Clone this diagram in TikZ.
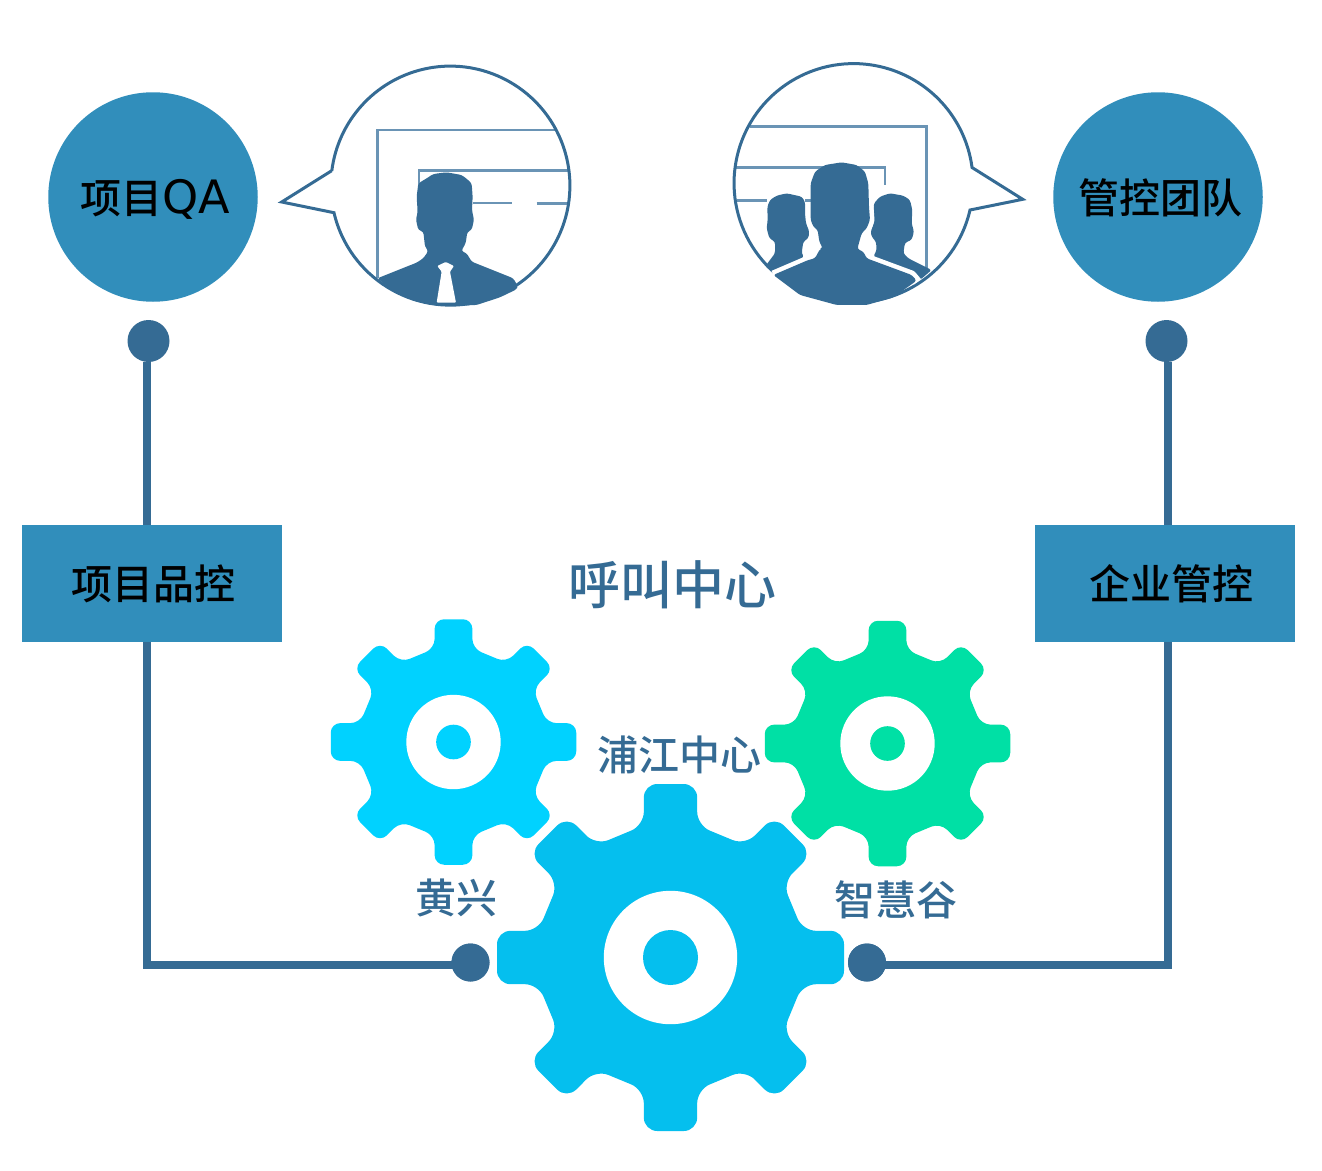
\documentclass[tikz,border=0pt]{standalone}
\usepackage{fontspec}
\newfontfamily\cjk{Noto Sans CJK SC Medium}
\newfontfamily\latinlab{DejaVu Sans}
\definecolor{darkblue}{HTML}{356B94}
\definecolor{midblue}{HTML}{318EBB}
\definecolor{linelight}{HTML}{6A94B5}
\definecolor{gearbig}{HTML}{05BFEE}
\definecolor{gearcyan}{HTML}{00D2FF}
\definecolor{geargreen}{HTML}{00E0A5}
\tikzset{
  hub/.style={circle,fill=midblue,minimum size=209.5pt,inner sep=0pt},
  hubtext/.style={text=black,inner sep=0pt,font=\cjk\fontsize{41}{41}\selectfont},
  dotbig/.style={circle,fill=darkblue,minimum size=42pt,inner sep=0pt},
  dotsmall/.style={circle,fill=darkblue,minimum size=38pt,inner sep=0pt},
  band/.style={rectangle,fill=midblue,minimum width=259.5pt,minimum height=117pt,inner sep=0pt,text=black,font=\cjk\fontsize{41}{41}\selectfont},
  conn/.style={draw=darkblue,line width=7.5pt},
  lab/.style={text=darkblue,inner sep=0pt,font=\cjk\fontsize{41}{41}\selectfont},
  labbig/.style={text=darkblue,inner sep=0pt,font=\cjk\fontsize{52}{52}\selectfont},
  bubble/.style={draw=darkblue,line width=3pt,line join=miter},
  thinline/.style={draw=linelight,line width=2.8pt},
  person/.style={fill=darkblue,rounded corners=2.5pt},
  halo/.style={draw=white,line width=9pt,line join=round},
}
\newcommand{\gearshape}[6]{%
  \begin{scope}[shift={(#1,#2)},scale=#3]
    \fill[#4,rounded corners=#3*13.5pt] (0,-173.5)
      foreach \a in {0,45,...,315} {
        -- ([rotate=-\a]26.7,-173.5) -- ([rotate=-\a]26.7,-132.1)
        -- ([rotate=-\a]74.6,-112.3) -- ([rotate=-\a-45]-26.7,-173.5)
      } -- cycle;
    \fill[white] (0,0) circle[radius=#5];
    \fill[#4] (0,0) circle[radius=#6];
  \end{scope}}
\begin{document}
\begin{tikzpicture}[x=1pt,y=-1pt]
\useasboundingbox (0,0) rectangle (1322,1170);

% gears
\gearshape{453.5}{742}{0.7075}{gearcyan}{66.7}{24.5}
\gearshape{887.5}{743.5}{0.7075}{geargreen}{66.7}{24.5}
\gearshape{670.5}{957.5}{1}{gearbig}{66.7}{27.5}

% hubs, bands, dots
\node[hub] (qa) at (153,197) {};
\node[hub] (team) at (1158,197) {};
\node[hubtext] (qatext) at (155,199) {项目{\latinlab\fontsize{46}{46}\selectfont QA}};
\node[hubtext] (teamtext) at (1160,198) {管控团队};
\node[dotbig] (dotTL) at (148.5,341) {};
\node[dotbig] (dotTR) at (1166.5,341) {};
\node[band] (boxL) at (151.75,583.5) {\hspace{4pt}项目品控};
\node[band] (boxR) at (1165,583.5) {\hspace{12pt}企业管控};
\node[dotsmall] (dotBL) at (470.5,962.5) {};
\node[dotsmall] (dotBR) at (867,962.5) {};
\coordinate (cornerL) at (147,965);
\coordinate (cornerR) at (1168,965);

% connectors
\draw[conn] (dotTL.south -| cornerL) -- (boxL.north -| cornerL);
\draw[conn,line join=miter] (boxL.south -| cornerL) -- (cornerL) -- (cornerL -| dotBL.center);
\draw[conn] (dotTR.south -| cornerR) -- (boxR.north -| cornerR);
\draw[conn,line join=miter] (boxR.south -| cornerR) -- (cornerR) -- (cornerR -| dotBR.center);
\node[dotsmall] at (dotBL) {};
\node[dotsmall] at (dotBR) {};

% labels
\node[labbig] (hq) at (672.5,585) {呼叫中心};
\node[lab] (pj) at (679,755) {浦江中心};
\node[lab] (hx) at (456,898) {黄兴};
\node[lab] (zh) at (896,900) {智慧谷};

% left bubble
\begin{scope}[shift={(270,50)},x=0.3333pt,y=-0.3333pt]
  \draw[thinline] (322,685) -- (322,240) -- (855,240);
  \draw[thinline] (447,410) -- (447,362) -- (893,362);
  \draw[thinline] (610,459) -- (725,459);
  \draw[thinline] (800,461) -- (890,461);
\end{scope}
\draw[bubble] (331.7,170.7) -- (281.7,202) -- (334,212.7) arc[start angle=166.9,end angle=-172.9,radius=119.5];
\begin{scope}[shift={(270,50)},x=0.3333pt,y=-0.3333pt]
  \fill[person] (530,367) -- (575,375) -- (592,388) -- (605,400) -- (608,440) -- (606,480) -- (612,510) -- (605,540) -- (592,546) -- (587,580) -- (574,603) -- (590,610) -- (605,635) -- (730,685) -- (743,708) -- (740,718) -- (690,742) -- (620,765) -- (540,768) -- (480,764) -- (430,752) -- (375,728) -- (322,685) -- (440,638) -- (460,625) -- (475,603) -- (465,590) -- (460,545) -- (445,540) -- (438,510) -- (443,485) -- (440,440) -- (445,400) -- (470,385) -- (490,372) -- cycle;
  \fill[white,rounded corners=1pt] (527,636) -- (552,648) -- (540,665) -- (558,758) -- (500,758) -- (515,665) -- (502,648) -- cycle;
\end{scope}

% right bubble
\begin{scope}[shift={(720,50)},x=0.3333pt,y=-0.3333pt]
  \draw[thinline] (90,230) -- (620,230) -- (620,655);
  \draw[thinline] (45,352) -- (495,352) -- (495,405);
  \draw[thinline] (50,452) -- (140,452);
  \draw[thinline] (255,452) -- (272,452);
\end{scope}
\draw[bubble] (970,210) arc[start angle=13,end angle=352.5,radius=119.5] -- (1022.7,199.3) -- cycle;
\begin{scope}[shift={(720,50)},x=0.3333pt,y=-0.3333pt]
  \fill[person] (200,430) -- (245,440) -- (255,455) -- (255,490) -- (258,520) -- (268,545) -- (265,565) -- (250,575) -- (245,610) -- (252,622) -- (160,665) -- (135,650) -- (165,610) -- (165,575) -- (148,565) -- (140,535) -- (143,510) -- (142,470) -- (150,450) -- (170,437) -- cycle;
  \fill[person] (510,430) -- (550,437) -- (570,450) -- (577,480) -- (575,520) -- (582,545) -- (575,570) -- (555,578) -- (550,610) -- (565,625) -- (635,660) -- (600,690) -- (460,620) -- (470,600) -- (468,575) -- (455,560) -- (452,545) -- (462,520) -- (460,490) -- (462,460) -- (480,440) -- cycle;
  % white gaps between the front figure and the two behind it
  \draw[halo] (447,470) -- (450,510) -- (440,535) -- (425,550) -- (418,575) -- (412,597) -- (430,605) -- (440,625) -- (575,675) -- (592,695);
  \draw[halo] (272,470) -- (272,510) -- (280,530) -- (293,540) -- (298,575) -- (308,595) -- (300,597) -- (285,625) -- (265,630) -- (160,675);
  \fill[person] (365,337) -- (410,345) -- (435,365) -- (445,400) -- (447,470) -- (450,510) -- (440,535) -- (425,550) -- (418,575) -- (412,597) -- (430,605) -- (440,625) -- (575,675) -- (590,692) -- (520,742) -- (440,765) -- (350,765) -- (240,735) -- (160,675) -- (265,630) -- (285,625) -- (300,597) -- (308,595) -- (298,575) -- (293,540) -- (280,530) -- (272,510) -- (272,400) -- (285,365) -- (315,345) -- cycle;
\end{scope}
\end{tikzpicture}
\end{document}
